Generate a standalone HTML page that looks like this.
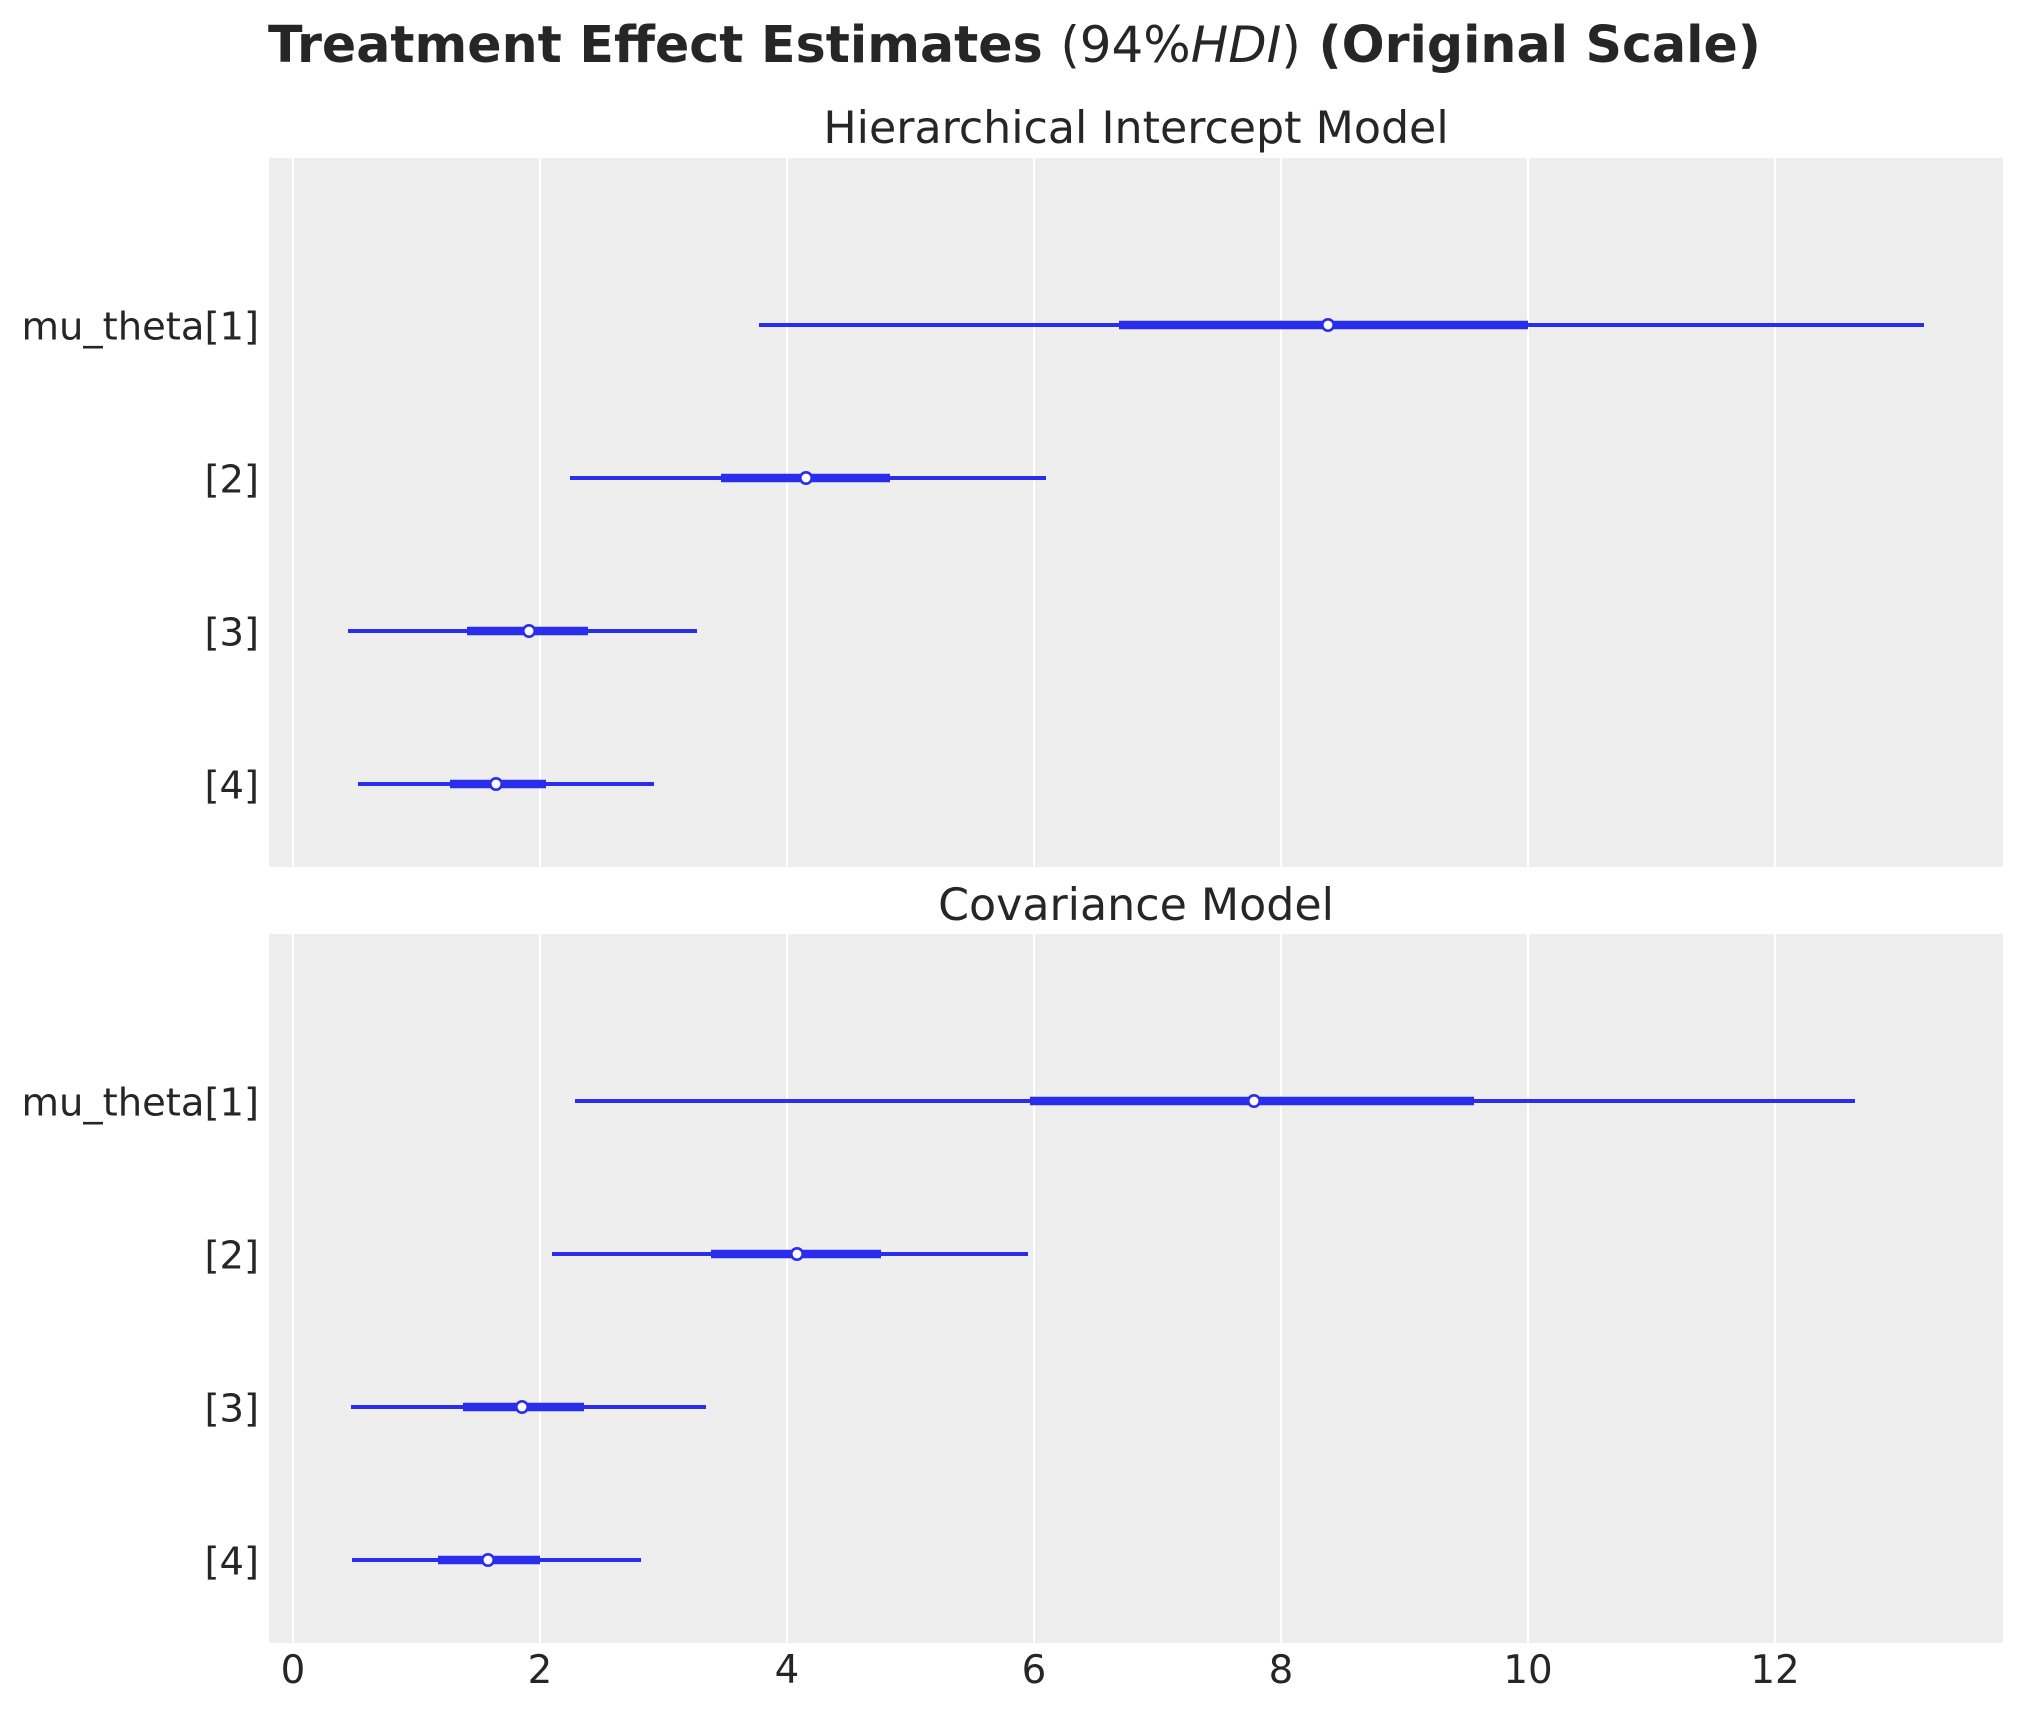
<!DOCTYPE html>
<html>
<head>
<meta charset="utf-8">
<style>
  html, body { margin: 0; padding: 0; background: #ffffff; }
  svg { display: block; }
  text { font-family: "DejaVu Sans", "Liberation Sans", sans-serif; fill: #262626; }
</style>
</head>
<body>
<svg xmlns="http://www.w3.org/2000/svg" width="2023" height="1711" viewBox="0 0 2023 1711">
  <rect x="0" y="0" width="2023" height="1711" fill="#ffffff"/>

  <!-- Suptitle -->
  <text x="268" y="62" font-size="50.6" font-weight="bold"><tspan font-weight="bold">Treatment Effect Estimates </tspan><tspan font-weight="normal" font-size="49.9">(94%</tspan><tspan font-weight="normal" font-style="italic" font-size="49.9">HDI</tspan><tspan font-weight="normal" font-size="49.9">)</tspan><tspan font-weight="bold"> (Original Scale)</tspan></text>

  <!-- ===== Panel 1 ===== -->
  <text x="1136" y="143" font-size="44.3" text-anchor="middle">Hierarchical Intercept Model</text>
  <rect x="269" y="158" width="1734" height="709" fill="#eeeeee"/>
  <g stroke="#ffffff" stroke-width="2">
    <line x1="293" y1="158" x2="293" y2="867"/>
    <line x1="540" y1="158" x2="540" y2="867"/>
    <line x1="787" y1="158" x2="787" y2="867"/>
    <line x1="1034" y1="158" x2="1034" y2="867"/>
    <line x1="1281" y1="158" x2="1281" y2="867"/>
    <line x1="1528" y1="158" x2="1528" y2="867"/>
    <line x1="1775" y1="158" x2="1775" y2="867"/>
  </g>
  <g stroke="#2a2eec" stroke-linecap="butt">
    <line x1="759" y1="325" x2="1924" y2="325" stroke-width="4"/>
    <line x1="1119" y1="325" x2="1528" y2="325" stroke-width="8.5"/>
    <line x1="570" y1="478" x2="1046" y2="478" stroke-width="4"/>
    <line x1="721" y1="478" x2="890" y2="478" stroke-width="8.5"/>
    <line x1="348" y1="631" x2="697" y2="631" stroke-width="4"/>
    <line x1="467" y1="631" x2="588" y2="631" stroke-width="8.5"/>
    <line x1="358" y1="784" x2="654" y2="784" stroke-width="4"/>
    <line x1="450" y1="784" x2="546" y2="784" stroke-width="8.5"/>
  </g>
  <g fill="#ffffff" stroke="#2a2eec" stroke-width="2.6">
    <circle cx="1328" cy="325" r="5.7"/>
    <circle cx="806" cy="478" r="5.7"/>
    <circle cx="529" cy="631" r="5.7"/>
    <circle cx="496" cy="784" r="5.7"/>
  </g>
  <g font-size="38.5" text-anchor="end">
    <text x="259" y="339.5">mu_theta[1]</text>
    <text x="259" y="492.5">[2]</text>
    <text x="259" y="645.5">[3]</text>
    <text x="259" y="798.5">[4]</text>
  </g>

  <!-- ===== Panel 2 ===== -->
  <text x="1136" y="920" font-size="44.3" text-anchor="middle">Covariance Model</text>
  <rect x="269" y="934" width="1734" height="709" fill="#eeeeee"/>
  <g stroke="#ffffff" stroke-width="2">
    <line x1="293" y1="934" x2="293" y2="1643"/>
    <line x1="540" y1="934" x2="540" y2="1643"/>
    <line x1="787" y1="934" x2="787" y2="1643"/>
    <line x1="1034" y1="934" x2="1034" y2="1643"/>
    <line x1="1281" y1="934" x2="1281" y2="1643"/>
    <line x1="1528" y1="934" x2="1528" y2="1643"/>
    <line x1="1775" y1="934" x2="1775" y2="1643"/>
  </g>
  <g stroke="#2a2eec" stroke-linecap="butt">
    <line x1="575" y1="1101" x2="1855" y2="1101" stroke-width="4"/>
    <line x1="1030" y1="1101" x2="1474" y2="1101" stroke-width="8.5"/>
    <line x1="552" y1="1254" x2="1028" y2="1254" stroke-width="4"/>
    <line x1="711" y1="1254" x2="881" y2="1254" stroke-width="8.5"/>
    <line x1="351" y1="1407" x2="706" y2="1407" stroke-width="4"/>
    <line x1="463" y1="1407" x2="584" y2="1407" stroke-width="8.5"/>
    <line x1="352" y1="1560" x2="641" y2="1560" stroke-width="4"/>
    <line x1="438" y1="1560" x2="540" y2="1560" stroke-width="8.5"/>
  </g>
  <g fill="#ffffff" stroke="#2a2eec" stroke-width="2.6">
    <circle cx="1254" cy="1101" r="5.7"/>
    <circle cx="797" cy="1254" r="5.7"/>
    <circle cx="522" cy="1407" r="5.7"/>
    <circle cx="488" cy="1560" r="5.7"/>
  </g>
  <g font-size="38.5" text-anchor="end">
    <text x="259" y="1115.5">mu_theta[1]</text>
    <text x="259" y="1268.5">[2]</text>
    <text x="259" y="1421.5">[3]</text>
    <text x="259" y="1574.5">[4]</text>
  </g>

  <!-- x tick labels -->
  <g font-size="38.8" text-anchor="middle">
    <text x="293" y="1683">0</text>
    <text x="540" y="1683">2</text>
    <text x="787" y="1683">4</text>
    <text x="1034" y="1683">6</text>
    <text x="1281" y="1683">8</text>
    <text x="1528" y="1683">10</text>
    <text x="1775" y="1683">12</text>
  </g>
</svg>
</body>
</html>
